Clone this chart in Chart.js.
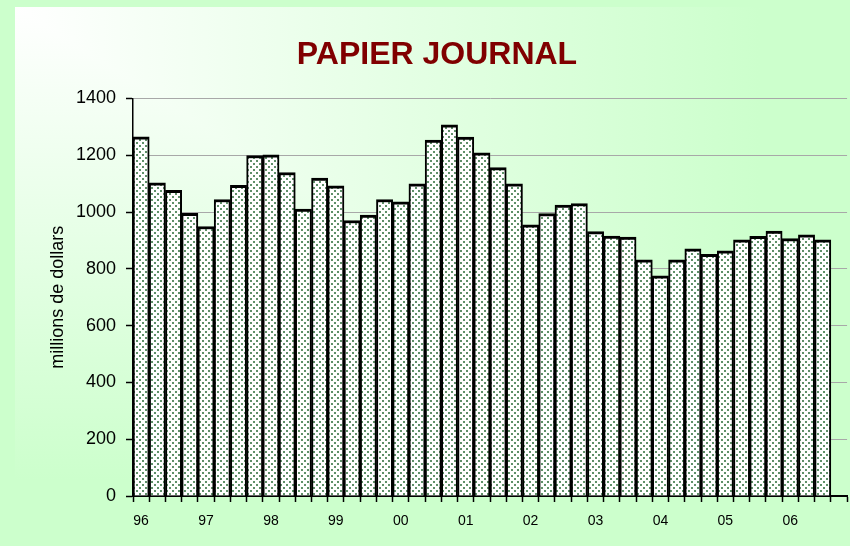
<!DOCTYPE html>
<html><head><meta charset="utf-8">
<style>html,body{margin:0;padding:0;background:#ccffcc;}canvas{display:block;}</style>
<script src="https://cdn.jsdelivr.net/npm/chart.js@4.4.0/dist/chart.umd.min.js"></script>
</head><body>
<canvas id="c" width="850" height="546"></canvas>
<script>
// Years (first quarter of each year is labelled)
const years = ['96','97','98','99','00','01','02','03','04','05','06'];
// Quarterly values, millions de dollars (1996 Q1 ... 2006 Q3)
const v1996 = [1265, 1103, 1076, 995];
const v1997 = [949, 1044, 1094, 1199];
const v1998 = [1201, 1139, 1010, 1119];
const v1999 = [1092, 970, 989, 1044];
const v2000 = [1036, 1099, 1253, 1307];
const v2001 = [1264, 1208, 1156, 1099];
const v2002 = [955, 994, 1024, 1030];
const v2003 = [931, 915, 912, 832];
const v2004 = [775, 832, 870, 851];
const v2005 = [863, 902, 914, 933];
const v2006 = [906, 920, 902, null];
const yTicks = [0, 200, 400, 600, 800, 1000, 1200, 1400];

const values = [].concat(v1996, v1997, v1998, v1999, v2000, v2001, v2002, v2003, v2004, v2005, v2006);
const labels = [];
years.forEach(y => { labels.push(y, '', '', ''); });

// dotted fill pattern
function makePattern() {
  const t = document.createElement('canvas');
  t.width = 6; t.height = 6;
  const c = t.getContext('2d');
  c.fillStyle = '#ffffff'; c.fillRect(0, 0, 6, 6);
  c.fillStyle = '#5f9069';
  c.fillRect(1, 1, 2, 2);
  c.fillRect(4, 4, 2, 2);
  return document.getElementById('c').getContext('2d').createPattern(t, 'repeat');
}

const bgPlugin = {
  id: 'bg',
  beforeDraw(chart) {
    const ctx = chart.ctx;
    ctx.save();
    ctx.fillStyle = '#ccffcc';
    ctx.fillRect(0, 0, chart.width, chart.height);
    const x0 = 15, y0 = 7, x1 = 850, y1 = 501;
    const gh = ctx.createLinearGradient(x0, 0, 760, 0);
    gh.addColorStop(0, '#ffffff'); gh.addColorStop(1, '#ccffcc');
    ctx.fillStyle = gh; ctx.fillRect(x0, y0, x1 - x0, y1 - y0);
    ctx.globalCompositeOperation = 'darken';
    const gv = ctx.createLinearGradient(0, y0, 0, 480);
    gv.addColorStop(0, '#ffffff'); gv.addColorStop(1, '#ccffcc');
    ctx.fillStyle = gv; ctx.fillRect(x0, y0, x1 - x0, y1 - y0);
    ctx.restore();
  }
};

const sans = "'Liberation Sans', Arial, sans-serif";

new Chart(document.getElementById('c'), {
  type: 'bar',
  data: {
    labels: labels,
    datasets: [{
      data: values,
      backgroundColor: makePattern(),
      borderColor: '#000000',
      borderWidth: { top: 3, left: 2, right: 2, bottom: 0 },
      borderSkipped: 'bottom',
      categoryPercentage: 1.0,
      barPercentage: 1.0
    }]
  },
  options: {
    responsive: false,
    animation: false,
    devicePixelRatio: 1,
    layout: { padding: { left: 26, right: 2, top: 0, bottom: 0 } },
    plugins: {
      legend: { display: false },
      tooltip: { enabled: false },
      title: {
        display: true,
        text: 'PAPIER JOURNAL',
        color: '#800000',
        font: { family: sans, size: 32, weight: 'bold', lineHeight: 1.2 },
        padding: { top: 36, bottom: 24 }
      }
    },
    scales: {
      x: {
        grid: { display: true, drawOnChartArea: false, offset: true, tickLength: 6, tickColor: '#000', tickWidth: 1.5 },
        border: { color: '#000', width: 2 },
        ticks: { autoSkip: false, maxRotation: 0, minRotation: 0, color: '#000', font: { family: sans, size: 14 }, padding: 11 },
        afterFit(s) { s.height = 50; }
      },
      y: {
        min: 0, max: 1400,
        afterBuildTicks(s) { s.ticks = yTicks.map(v => ({ value: v })); },
        ticks: { color: '#000', font: { family: sans, size: 18 }, padding: 10, callback: (v) => String(v) },
        grid: {
          color: (c) => (c.tick && c.tick.value === 0) ? '#000' : '#a8a8a8',
          lineWidth: 1, tickLength: 7, tickColor: '#000', tickWidth: 1.5
        },
        border: { color: '#000', width: 1.5 },
        title: { display: true, text: 'millions de dollars', color: '#000', font: { family: sans, size: 18 }, padding: { top: 21 } },
        afterFit(s) { s.width = 107; }
      }
    }
  },
  plugins: [bgPlugin]
});
</script>
</body></html>
